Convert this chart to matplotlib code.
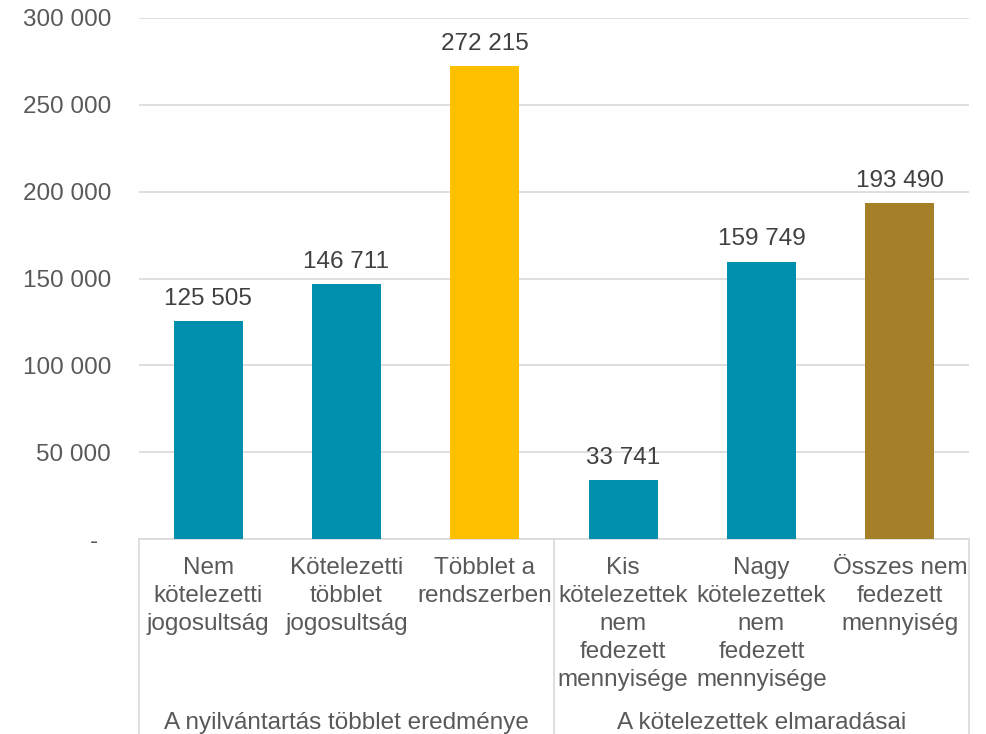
import matplotlib.pyplot as plt
from matplotlib.transforms import blended_transform_factory
from matplotlib.lines import Line2D

# adatok
categories = ['Nem\nkötelezetti\njogosultság', 'Kötelezetti\ntöbblet\njogosultság', 'Többlet a\nrendszerben',
              'Kis\nkötelezettek\nnem\nfedezett\nmennyisége', 'Nagy\nkötelezettek\nnem\nfedezett\nmennyisége',
              'Összes nem\nfedezett\nmennyiség']
values = [125505, 146711, 272215, 33741, 159749, 193490]
colors = ['#008FAD', '#008FAD', '#FFC000', '#008FAD', '#008FAD', '#A68028']
groups = ['A nyilvántartás többlet eredménye', 'A kötelezettek elmaradásai']
group_sizes = [3, 3]
yticks = [0, 50000, 100000, 150000, 200000, 250000, 300000]

plt.rcParams['font.family'] = ['Liberation Sans', 'DejaVu Sans']
txt = '#595959'
grid = '#D9D9D9'
fs = 17.5

fig = plt.figure(figsize=(9.87, 7.34), dpi=100)
ax = fig.add_axes([139 / 987, (734 - 539) / 734, 830 / 987, 521 / 734])

x = list(range(len(values)))
ax.bar(x, values, width=0.5, color=colors, zorder=3)
for xi, v in zip(x, values):
    ax.annotate(f'{v:,}'.replace(',', ' '), (xi, v), xytext=(0, 8), textcoords='offset points',
                ha='center', va='bottom', fontsize=fs, color='#404040')

ax.set_xlim(-0.5, len(values) - 0.5)
ax.set_ylim(0, 300000)
ax.set_yticks(yticks)
ax.set_yticklabels(['-  ' if t == 0 else f'{t:,}'.replace(',', ' ') for t in yticks])
ax.tick_params(axis='y', length=0, pad=20, labelsize=fs, labelcolor=txt)
ax.set_xticks([])
ax.grid(axis='y', color=grid, linewidth=1.2, zorder=0)
for s in ['top', 'right', 'left']:
    ax.spines[s].set_visible(False)
ax.spines['bottom'].set_color(grid)
ax.spines['bottom'].set_linewidth(1.2)

# kategória feliratok
tr = blended_transform_factory(ax.transData, fig.transFigure)
for xi, c in zip(x, categories):
    ax.text(xi, (734 - 557) / 734, c, transform=tr, ha='center', va='top', fontsize=fs,
            color=txt, linespacing=1.36, clip_on=False)

start = 0
bounds = [-0.5]
for g, n in zip(groups, group_sizes):
    mid = start + (n - 1) / 2
    ax.text(mid, (734 - 712) / 734, g, transform=tr, ha='center', va='top', fontsize=fs,
            color=txt, clip_on=False)
    start += n
    bounds.append(start - 0.5)

for b in bounds:
    fig.add_artist(Line2D([b, b], [0, (734 - 539) / 734], transform=tr, color=grid, linewidth=1.2))

fig.savefig('out.png', dpi=100)
